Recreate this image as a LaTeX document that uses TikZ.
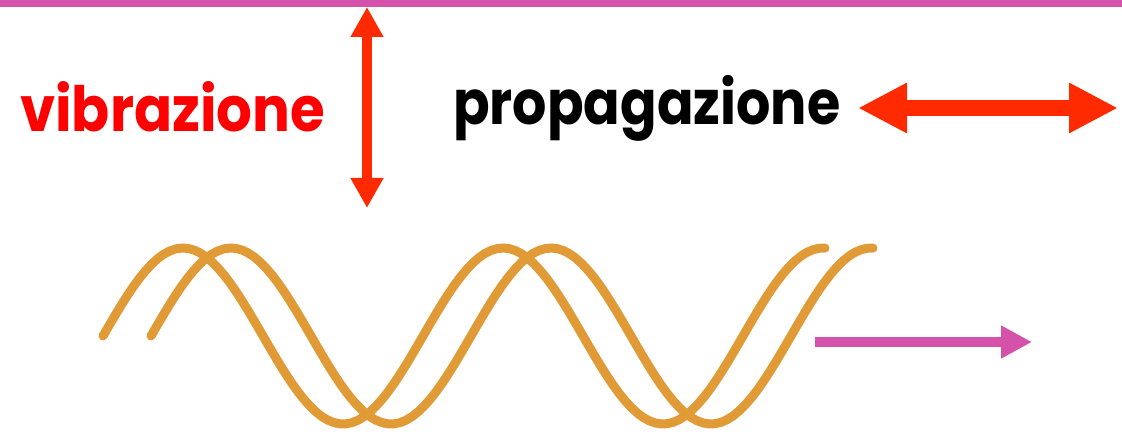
\documentclass[tikz,border=0pt]{standalone}
\usepackage{fontspec}
\setmainfont{Poppins}
\usetikzlibrary{arrows.meta}
\definecolor{wavecol}{RGB}{224,155,55}
\definecolor{magcol}{RGB}{212,82,170}
\definecolor{arrred}{RGB}{255,42,0}
\definecolor{txtred}{RGB}{255,0,0}
\tikzset{
  wave/.style={draw=wavecol, line width=9pt, line cap=round, line join=round},
  vtext/.style={inner sep=0pt, anchor=base west, font=\bfseries},
}
\begin{document}
\begin{tikzpicture}[x=1pt,y=-1pt]
\useasboundingbox (0,0) rectangle (1122,435);
% top line
\coordinate (tl) at (0,3.5);
\coordinate (tr) at (1122,3.5);
\draw[magcol, line width=7pt] (tl) -- (tr);
% vertical arrow
\coordinate (va) at (367,7);
\coordinate (vb) at (367,208);
\draw[arrred, line width=10pt, {Triangle[length=30pt,width=31pt]}-{Triangle[length=30pt,width=31pt]}] (va) -- (vb);
% horizontal arrow
\coordinate (ha) at (858,108);
\coordinate (hb) at (1118,108);
\draw[arrred, line width=16pt, {Triangle[length=49pt,width=47pt]}-{Triangle[length=49pt,width=47pt]}] (ha) -- (hb);
% texts
\node[vtext, text=txtred] (vib) at (20,132) {\resizebox{305pt}{50pt}{vibrazione}};
\node[vtext, text=black] (prop) at (453,125) {\resizebox*{387pt}{66pt}{propagazione}};
% waves
\draw[wave] plot[domain=103:825, samples=120] (\x, {336-88*sin((\x-103)*1.125)});
\draw[wave] plot[domain=151:873, samples=120] (\x, {336-88*sin((\x-151)*1.125)});
% propagation arrow
\coordinate (pa) at (815,342);
\coordinate (pb) at (1032,342);
\draw[magcol, line width=10pt, -{Triangle[length=31pt,width=31pt]}] (pa) -- (pb);
\end{tikzpicture}
\end{document}
